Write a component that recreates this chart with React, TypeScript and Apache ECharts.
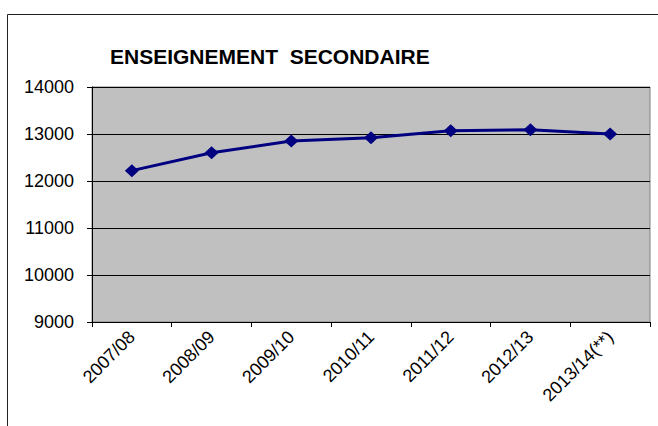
import React, { useEffect, useRef } from "react";
import * as echarts from "echarts";

const categories = ["2007/08", "2008/09", "2009/10", "2010/11", "2011/12", "2012/13", "2013/14(**)"];
const values = [12220, 12600, 12850, 12920, 13070, 13090, 13000];
const titleText = "ENSEIGNEMENT  SECONDAIRE";

const FONT = "'Liberation Sans', Arial, sans-serif";

export default function App() {
  const ref = useRef<HTMLDivElement>(null);
  useEffect(() => {
    if (!ref.current) return;
    const chart = echarts.init(ref.current, null, { renderer: "svg" });
    chart.setOption({
      animation: false,
      backgroundColor: "#ffffff",
      title: {
        text: titleText,
        left: 110,
        top: 46,
        padding: 0,
        textStyle: { fontFamily: FONT, fontSize: 21, fontWeight: "bold", color: "#000" },
      },
      graphic: [
        {
          type: "rect",
          shape: { x: 7.5, y: 14.5, width: 700, height: 500 },
          style: { fill: "none", stroke: "#222", lineWidth: 1 },
          silent: true,
          z: 100,
        },
      ],
      grid: {
        left: 92,
        right: 8,
        top: 87,
        bottom: 104,
        show: true,
        backgroundColor: "#C0C0C0",
        borderColor: "#808080",
        borderWidth: 1,
      },
      xAxis: {
        type: "category",
        data: categories,
        boundaryGap: true,
        axisLine: { show: true, lineStyle: { color: "#000", width: 1 } },
        axisTick: { show: true, length: 5, alignWithLabel: false, lineStyle: { color: "#000" } },
        axisLabel: {
          rotate: 45,
          margin: 12,
          interval: 0,
          fontFamily: FONT,
          fontSize: 18,
          color: "#000",
        },
        splitLine: { show: false },
      },
      yAxis: {
        type: "value",
        min: 9000,
        max: 14000,
        interval: 1000,
        axisLine: { show: true, lineStyle: { color: "#000", width: 1 } },
        axisTick: { show: true, length: 5, inside: false, lineStyle: { color: "#000" } },
        axisLabel: {
          margin: 18,
          fontFamily: FONT,
          fontSize: 18,
          color: "#000",
          formatter: (v: number) => String(v),
        },
        splitLine: { show: true, lineStyle: { color: "#000", width: 1 } },
      },
      series: [
        {
          type: "line",
          data: values,
          symbol: "diamond",
          symbolSize: [14, 13],
          lineStyle: { color: "#000080", width: 3 },
          itemStyle: { color: "#000080" },
        },
      ],
    });
    return () => chart.dispose();
  }, []);
  return <div ref={ref} style={{ position: "absolute", left: 0, top: 0, width: 658, height: 426 }} />;
}
